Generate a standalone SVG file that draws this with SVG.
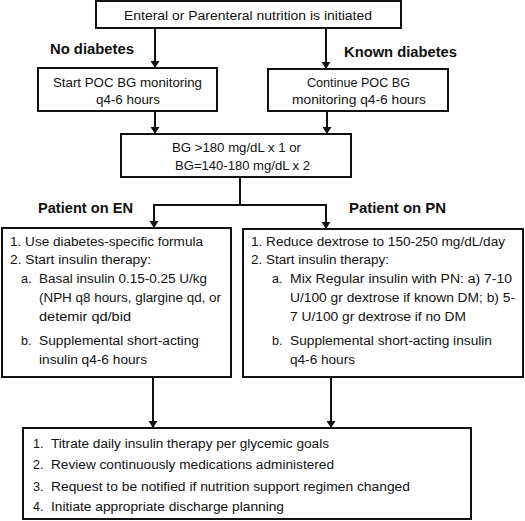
<svg xmlns="http://www.w3.org/2000/svg" width="525" height="521" viewBox="0 0 525 521">
<defs>
<style>
.box{fill:#fff;stroke:#111;stroke-width:2}
.t{font-family:"Liberation Sans",Arial,sans-serif;font-size:12.5px;fill:#111}
.b{font-family:"Liberation Sans",Arial,sans-serif;font-size:14.5px;font-weight:bold;fill:#111}
.ln{fill:none;stroke:#111;stroke-width:2}
</style>
<marker id="ah" markerUnits="userSpaceOnUse" markerWidth="10" markerHeight="10" refX="7" refY="4.5" orient="auto">
<path d="M0,0 L7,4.5 L0,9 z" fill="#111"/>
</marker>
</defs>
<rect width="525" height="521" fill="#fff"/>

<g id="connectors">
<line class="ln" x1="155" y1="28" x2="155" y2="68" marker-end="url(#ah)"/>
<line class="ln" x1="326" y1="28" x2="326" y2="69" marker-end="url(#ah)"/>
<line class="ln" x1="155" y1="111" x2="155" y2="134" marker-end="url(#ah)"/>
<line class="ln" x1="327" y1="111" x2="327" y2="134" marker-end="url(#ah)"/>
<line class="ln" x1="240" y1="177" x2="240" y2="205"/>
<line class="ln" x1="153" y1="205" x2="327" y2="205"/>
<line class="ln" x1="154" y1="205" x2="154" y2="228" marker-end="url(#ah)"/>
<line class="ln" x1="326" y1="205" x2="326" y2="229" marker-end="url(#ah)"/>
<line class="ln" x1="153" y1="377" x2="153" y2="428" marker-end="url(#ah)"/>
<line class="ln" x1="331" y1="377" x2="331" y2="428" marker-end="url(#ah)"/>
</g>

<g id="labels">
<text class="b" x="50" y="54" textLength="84" lengthAdjust="spacingAndGlyphs">No diabetes</text>
<text class="b" x="344" y="57" textLength="113" lengthAdjust="spacingAndGlyphs">Known diabetes</text>
<text class="b" x="38" y="213" textLength="95" lengthAdjust="spacingAndGlyphs">Patient on EN</text>
<text class="b" x="349" y="213" textLength="97" lengthAdjust="spacingAndGlyphs">Patient on PN</text>
</g>

<g id="start">
<rect class="box" x="96" y="1" width="305" height="27"/>
<text class="t" x="124" y="20" textLength="248" lengthAdjust="spacingAndGlyphs">Enteral or Parenteral nutrition is initiated</text>
</g>

<g id="no-diabetes">
<rect class="box" x="38" y="68" width="179" height="43"/>
<text class="t" x="53" y="87" textLength="149" lengthAdjust="spacingAndGlyphs">Start POC BG monitoring</text>
<text class="t" x="96" y="104" textLength="64" lengthAdjust="spacingAndGlyphs">q4-6 hours</text>
</g>

<g id="known-diabetes">
<rect class="box" x="268" y="69" width="180" height="42"/>
<text class="t" x="307" y="87" textLength="103" lengthAdjust="spacingAndGlyphs">Continue POC BG</text>
<text class="t" x="292" y="104" textLength="134" lengthAdjust="spacingAndGlyphs">monitoring q4-6 hours</text>
</g>

<g id="bg-threshold">
<rect class="box" x="121" y="134" width="230" height="43"/>
<text class="t" x="172" y="152" textLength="129" lengthAdjust="spacingAndGlyphs">BG &gt;180 mg/dL x 1 or</text>
<text class="t" x="175" y="170" textLength="135" lengthAdjust="spacingAndGlyphs">BG=140-180 mg/dL x 2</text>
</g>

<g id="en">
<rect class="box" x="2" y="228" width="229" height="149"/>
<text class="t" x="10" y="246" textLength="193" lengthAdjust="spacingAndGlyphs">1. Use diabetes-specific formula</text>
<text class="t" x="10" y="264" textLength="141" lengthAdjust="spacingAndGlyphs">2. Start insulin therapy:</text>
<text class="t" x="21" y="283">a.</text>
<text class="t" x="39" y="283" textLength="168" lengthAdjust="spacingAndGlyphs">Basal insulin 0.15-0.25 U/kg</text>
<text class="t" x="39" y="302" textLength="182" lengthAdjust="spacingAndGlyphs">(NPH q8 hours, glargine qd, or</text>
<text class="t" x="39" y="321" textLength="92" lengthAdjust="spacingAndGlyphs">detemir qd/bid</text>
<text class="t" x="21" y="345">b.</text>
<text class="t" x="39" y="345" textLength="160" lengthAdjust="spacingAndGlyphs">Supplemental short-acting</text>
<text class="t" x="39" y="364" textLength="108" lengthAdjust="spacingAndGlyphs">insulin q4-6 hours</text>
</g>

<g id="pn">
<rect class="box" x="243" y="229" width="280" height="148"/>
<text class="t" x="251" y="246" textLength="254" lengthAdjust="spacingAndGlyphs">1. Reduce dextrose to 150-250 mg/dL/day</text>
<text class="t" x="251" y="264" textLength="138" lengthAdjust="spacingAndGlyphs">2. Start insulin therapy:</text>
<text class="t" x="272" y="283">a.</text>
<text class="t" x="290" y="283" textLength="222" lengthAdjust="spacingAndGlyphs">Mix Regular insulin with PN: a) 7-10</text>
<text class="t" x="290" y="302" textLength="225" lengthAdjust="spacingAndGlyphs">U/100 gr dextrose if known DM; b) 5-</text>
<text class="t" x="290" y="321" textLength="176" lengthAdjust="spacingAndGlyphs">7 U/100 gr dextrose if no DM</text>
<text class="t" x="272" y="345">b.</text>
<text class="t" x="290" y="345" textLength="202" lengthAdjust="spacingAndGlyphs">Supplemental short-acting insulin</text>
<text class="t" x="290" y="364" textLength="65" lengthAdjust="spacingAndGlyphs">q4-6 hours</text>
</g>

<g id="follow-up">
<rect class="box" x="23" y="428" width="448" height="91"/>
<text class="t" x="33" y="448">1.</text>
<text class="t" x="51" y="448" textLength="278" lengthAdjust="spacingAndGlyphs">Titrate daily insulin therapy per glycemic goals</text>
<text class="t" x="33" y="469">2.</text>
<text class="t" x="51" y="469" textLength="283" lengthAdjust="spacingAndGlyphs">Review continuously medications administered</text>
<text class="t" x="33" y="491">3.</text>
<text class="t" x="51" y="491" textLength="359" lengthAdjust="spacingAndGlyphs">Request to be notified if nutrition support regimen changed</text>
<text class="t" x="33" y="511">4.</text>
<text class="t" x="51" y="511" textLength="233" lengthAdjust="spacingAndGlyphs">Initiate appropriate discharge planning</text>
</g>
</svg>
